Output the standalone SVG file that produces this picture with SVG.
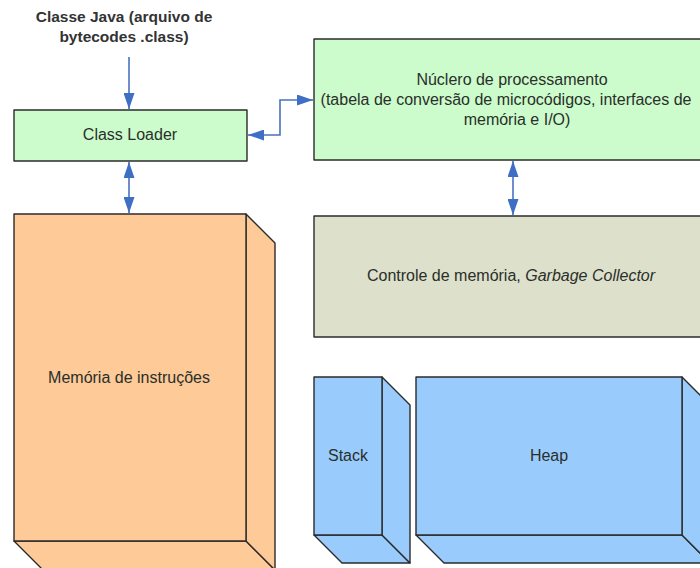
<svg xmlns="http://www.w3.org/2000/svg" width="700" height="568" viewBox="0 0 700 568">
  <style>
    .lbl { font-family: "Liberation Sans", Arial, sans-serif; font-size: 16px; fill: #2a2f2a; text-anchor: middle; }
    .title { font-family: "Liberation Sans", Arial, sans-serif; font-size: 15.5px; font-weight: bold; fill: #333333; text-anchor: middle; }
    .box { stroke: #2b2b2b; stroke-width: 1.4; stroke-linejoin: round; }
    .green { fill: #ccfccc; }
    .peach { fill: #fdca98; }
    .blue { fill: #99ccfc; }
    .gray { fill: #dde0cb; }
    .conn { fill: none; stroke: #4a72be; stroke-width: 1.6; }
  </style>
  <defs>
    <marker id="arrow" viewBox="0 0 16 11" refX="16" refY="5.5" markerWidth="16" markerHeight="11" markerUnits="userSpaceOnUse" orient="auto-start-reverse">
      <path d="M0,0 L16,5.5 L0,11 Z" fill="#3f6fc4"/>
    </marker>
  </defs>
  <rect width="700" height="568" fill="#ffffff"/>

  <!-- input label -->
  <g id="input">
    <text class="title" x="124" y="22">Classe Java (arquivo de</text>
    <text class="title" x="124" y="42">bytecodes .class)</text>
  </g>

  <g id="class-loader">
    <rect class="box green" x="14" y="110" width="233" height="51"/>
    <text class="lbl" x="130" y="140">Class Loader</text>
  </g>

  <g id="nucleo">
    <rect class="box green" x="314" y="39" width="400" height="121"/>
    <text class="lbl" x="512" y="85">Núclero de processamento</text>
    <text class="lbl" x="506" y="105">(tabela de conversão de microcódigos, interfaces de</text>
    <text class="lbl" x="517" y="125">memória e I/O)</text>
  </g>

  <g id="controle">
    <rect class="box gray" x="314" y="216" width="400" height="121"/>
    <text class="lbl" x="511" y="281">Controle de memória, <tspan font-style="italic">Garbage Collector</tspan></text>
  </g>

  <g id="memoria-instrucoes">
    <polygon class="box peach" points="14,541 43,570 275,570 246,541"/>
    <polygon class="box peach" points="246,214 275,243 275,570 246,541"/>
    <rect class="box peach" x="14" y="214" width="232" height="327"/>
    <text class="lbl" x="129" y="383">Memória de instruções</text>
  </g>

  <g id="stack">
    <polygon class="box blue" points="314,535 342,563 410,563 382,535"/>
    <polygon class="box blue" points="382,377 410,405 410,563 382,535"/>
    <rect class="box blue" x="314" y="377" width="68" height="158"/>
    <text class="lbl" x="348" y="461">Stack</text>
  </g>

  <g id="heap">
    <polygon class="box blue" points="416,535 444,563 710,563 682,535"/>
    <polygon class="box blue" points="682,377 710,405 710,563 682,535"/>
    <rect class="box blue" x="416" y="377" width="266" height="158"/>
    <text class="lbl" x="549" y="461">Heap</text>
  </g>

  <g id="connectors">
    <line class="conn" x1="129" y1="57" x2="129" y2="109" marker-end="url(#arrow)"/>
    <line class="conn" x1="129" y1="162" x2="129" y2="213" marker-start="url(#arrow)" marker-end="url(#arrow)"/>
    <polyline class="conn" points="248,135 280,135 280,100 313,100" marker-start="url(#arrow)" marker-end="url(#arrow)"/>
    <line class="conn" x1="513" y1="161" x2="513" y2="215" marker-start="url(#arrow)" marker-end="url(#arrow)"/>
  </g>
</svg>
